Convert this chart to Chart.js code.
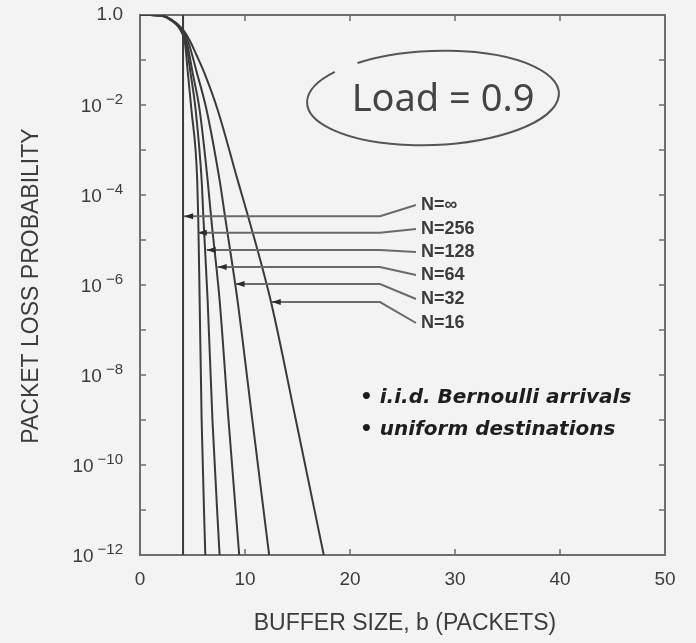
<!DOCTYPE html>
<html>
<head>
<meta charset="utf-8">
<title>Packet loss probability vs buffer size</title>
<script src="https://cdn.jsdelivr.net/npm/chart.js@4"></script>
<style>
    html, body { margin: 0; padding: 0; background: #f3f3f3; }
    canvas { display: block; }
</style>
</head>
<body>
<canvas id="loss-chart" width="696" height="643"></canvas>
<script>
(function(window) {
    'use strict';

    // Buffer sizes b and log10(packet loss probability)
    var nInfB = [4.1, 4.1];
    var nInfLog = [0, -12];

    var n256B = [0, 1, 2, 3, 4, 4.3, 4.55, 4.9, 5.45, 5.55, 5.68, 5.87, 6.22];
    var n256Log = [0, 0, -0.01, -0.12, -0.4, -0.65, -1.27, -2.11, -3.67, -4.56, -6.33, -9, -12];

    var n128B = [0, 1, 2, 3, 4, 4.4, 4.8, 5.3, 5.87, 6.05, 6.44, 6.9, 7.58];
    var n128Log = [0, 0, -0.01, -0.12, -0.37, -0.65, -1.27, -2.11, -3.67, -4.56, -6.33, -9, -12];

    var n64B = [0, 1, 2, 3, 4, 4.5, 5.0, 5.68, 6.44, 6.8, 7.58, 8.43, 9.45];
    var n64Log = [0, 0, -0.01, -0.12, -0.35, -0.65, -1.27, -2.11, -3.67, -4.56, -6.33, -9, -12];

    var n32B = [0, 1, 2, 3, 4, 4.6, 5.4, 6.34, 7.58, 8.15, 9.28, 10.7, 12.3];
    var n32Log = [0, 0, -0.01, -0.11, -0.33, -0.6, -1.27, -2.11, -3.67, -4.56, -6.33, -9, -12];

    var n16B = [0, 1, 2, 3, 4, 4.7, 5.4, 6.1, 7.4, 9.3, 10.4, 12.5, 14.8, 17.5];
    var n16Log = [0, 0, -0.01, -0.1, -0.3, -0.55, -0.9, -1.27, -2.11, -3.67, -4.56, -6.4, -8.95, -12];

    // Curve labels and where each leader arrow touches its curve
    var seriesLabels = ['N=\u221e', 'N=256', 'N=128', 'N=64', 'N=32', 'N=16'];
    var arrowB = [4.2, 5.5, 6.35, 7.4, 9.1, 12.55];
    var arrowLog = [-4.47, -4.84, -5.22, -5.6, -5.98, -6.38];

    // Axis ticks
    var xTicks = [0, 10, 20, 30, 40, 50];
    var yTickExp = [0, -2, -4, -6, -8, -10, -12];

    var notes = ['\u2022 i.i.d. Bernoulli arrivals', '\u2022 uniform destinations'];

    var ink = '#3a3a3a';
    var frameColor = '#6e6e6e';
    var textColor = '#3c3c3c';
    var sans = '"Liberation Sans", Arial, sans-serif';

    function toPoints(bs, logs) {
        return bs.map(function(b, i) {
            return { x: b, y: Math.pow(10, logs[i]) };
        });
    }

    function curve(label, bs, logs, straight) {
        return {
            label: label,
            data: toPoints(bs, logs),
            showLine: true,
            borderColor: ink,
            borderWidth: 2,
            pointRadius: 0,
            tension: straight ? 0 : 0.4,
            cubicInterpolationMode: straight ? 'default' : 'monotone'
        };
    }

    /**
     * Draws "10" with a raised exponent, right aligned at xRight
     */
    function drawPower(ctx, xRight, y, exp) {
        var base = '10';
        var sup = '\u2212' + Math.abs(exp);
        ctx.font = '19px ' + sans;
        var wBase = ctx.measureText(base).width;
        ctx.font = '15px ' + sans;
        var wSup = ctx.measureText(sup).width;
        var gap = 4;
        var left = xRight - wSup - gap - wBase;
        ctx.textAlign = 'left';
        ctx.textBaseline = 'middle';
        ctx.font = '19px ' + sans;
        ctx.fillText(base, left, y + 2);
        ctx.font = '15px ' + sans;
        ctx.fillText(sup, left + wBase + gap, y - 5);
    }

    var framePlugin = {
        id: 'frame',
        beforeDatasetsDraw: function(chart) {
            var ctx = chart.ctx;
            var a = chart.chartArea;
            var xs = chart.scales.x;
            var ys = chart.scales.y;
            ctx.save();
            ctx.strokeStyle = frameColor;
            ctx.lineWidth = 2;
            ctx.strokeRect(a.left, a.top, a.right - a.left, a.bottom - a.top);

            // inward ticks on all four sides
            ctx.lineWidth = 1.5;
            ctx.beginPath();
            for (var e = -1; e > -12; e--) {
                var py = ys.getPixelForValue(Math.pow(10, e));
                ctx.moveTo(a.left, py);
                ctx.lineTo(a.left + 6, py);
                ctx.moveTo(a.right, py);
                ctx.lineTo(a.right - 6, py);
            }
            xTicks.slice(1, -1).forEach(function(v) {
                var px = xs.getPixelForValue(v);
                ctx.moveTo(px, a.bottom);
                ctx.lineTo(px, a.bottom - 6);
                ctx.moveTo(px, a.top);
                ctx.lineTo(px, a.top + 6);
            });
            ctx.stroke();

            // tick labels
            ctx.fillStyle = textColor;
            ctx.font = '19px ' + sans;
            ctx.textAlign = 'center';
            ctx.textBaseline = 'middle';
            xTicks.forEach(function(v) {
                ctx.fillText(String(v), xs.getPixelForValue(v), a.bottom + 25);
            });
            yTickExp.forEach(function(e) {
                var py = ys.getPixelForValue(Math.pow(10, e));
                if (e === 0) {
                    ctx.textAlign = 'right';
                    ctx.textBaseline = 'middle';
                    ctx.font = '19px ' + sans;
                    ctx.fillText('1.0', a.left - 17, py);
                } else {
                    drawPower(ctx, a.left - 17, py, e);
                }
            });

            // axis titles
            ctx.font = '23px ' + sans;
            ctx.textAlign = 'center';
            ctx.textBaseline = 'middle';
            ctx.fillText('BUFFER SIZE, b (PACKETS)', 405, 624);
            ctx.save();
            ctx.translate(32, 286);
            ctx.rotate(-Math.PI / 2);
            ctx.fillText('PACKET LOSS PROBABILITY', 0, 0);
            ctx.restore();
            ctx.restore();
        }
    };

    var notesPlugin = {
        id: 'notes',
        afterDatasetsDraw: function(chart) {
            var ctx = chart.ctx;
            var xs = chart.scales.x;
            var ys = chart.scales.y;
            var labelY = [205, 229, 252, 275, 299, 323];
            ctx.save();

            // leader lines with arrow heads
            ctx.strokeStyle = '#6a6a6a';
            ctx.fillStyle = '#2a2a2a';
            ctx.lineWidth = 2;
            seriesLabels.forEach(function(name, i) {
                var px = xs.getPixelForValue(arrowB[i]);
                var py = ys.getPixelForValue(Math.pow(10, arrowLog[i]));
                ctx.beginPath();
                ctx.moveTo(px, py);
                ctx.lineTo(380, py);
                ctx.lineTo(416, labelY[i]);
                ctx.stroke();
                ctx.beginPath();
                ctx.moveTo(px, py);
                ctx.lineTo(px + 9, py - 3);
                ctx.lineTo(px + 9, py + 3);
                ctx.closePath();
                ctx.fill();
            });

            ctx.fillStyle = textColor;
            ctx.font = 'bold 18px ' + sans;
            ctx.textAlign = 'left';
            ctx.textBaseline = 'middle';
            seriesLabels.forEach(function(name, i) {
                ctx.fillText(name, 421, labelY[i]);
            });

            // hand drawn load note, ring left open at the top left
            ctx.strokeStyle = '#555';
            ctx.lineWidth = 2;
            ctx.beginPath();
            ctx.ellipse(433, 98, 126, 47, -0.04, Math.PI * 1.3, Math.PI * 3.22);
            ctx.stroke();
            ctx.fillStyle = '#444';
            ctx.font = '38px "Noto Sans", sans-serif';
            ctx.textAlign = 'center';
            ctx.fillText('Load = 0.9', 443, 100);

            ctx.fillStyle = '#1e1e1e';
            ctx.font = 'italic bold 20px "DejaVu Sans", sans-serif';
            ctx.textAlign = 'left';
            ctx.fillText(notes[0], 360, 398);
            ctx.fillText(notes[1], 360, 430);
            ctx.restore();
        }
    };

    var ctx = document.getElementById('loss-chart');
    new Chart(ctx, {
        type: 'scatter',
        data: {
            datasets: [
                curve(seriesLabels[0], nInfB, nInfLog, true),
                curve(seriesLabels[1], n256B, n256Log),
                curve(seriesLabels[2], n128B, n128Log),
                curve(seriesLabels[3], n64B, n64Log),
                curve(seriesLabels[4], n32B, n32Log),
                curve(seriesLabels[5], n16B, n16Log)
            ]
        },
        options: {
            responsive: false,
            animation: false,
            devicePixelRatio: 1,
            layout: { padding: { left: 132, top: 15, right: 31, bottom: 80 } },
            plugins: { legend: { display: false }, tooltip: { enabled: false } },
            scales: {
                x: {
                    type: 'linear', min: 0, max: 50,
                    ticks: { display: false },
                    grid: { display: false },
                    border: { display: false }
                },
                y: {
                    type: 'logarithmic', min: 1e-12, max: 1,
                    ticks: { display: false },
                    grid: { display: false },
                    border: { display: false }
                }
            }
        },
        plugins: [framePlugin, notesPlugin]
    });

})(window);
</script>
</body>
</html>
